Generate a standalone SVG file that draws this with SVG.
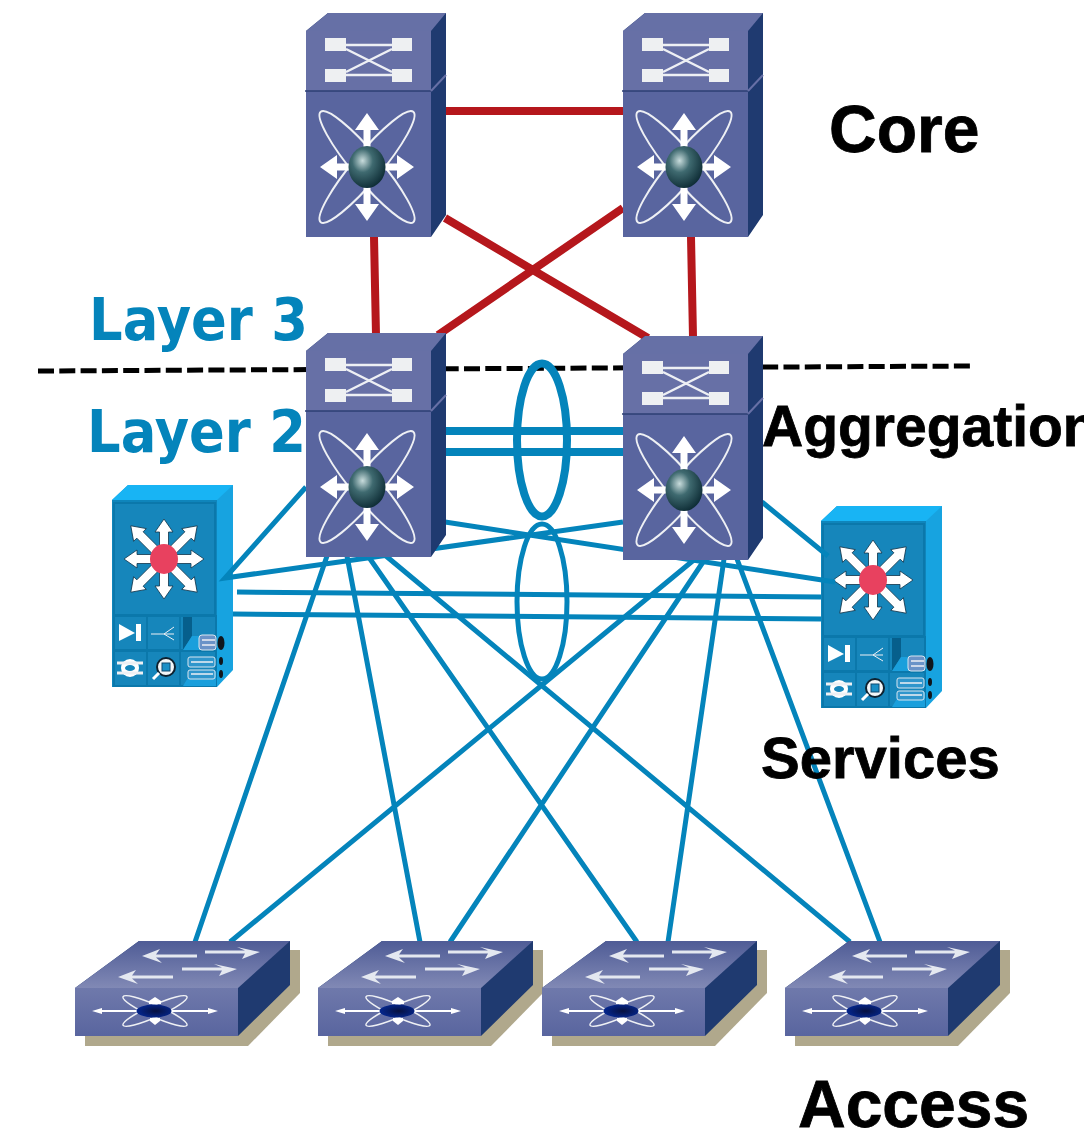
<svg xmlns="http://www.w3.org/2000/svg" xmlns:xlink="http://www.w3.org/1999/xlink" width="1084" height="1130" viewBox="0 0 1084 1130">
<style>
.lbl{font-family:"Liberation Sans",Arial,sans-serif;font-weight:bold;fill:#000;stroke:#000;stroke-width:.8}
.l2{font-family:"DejaVu Sans",Verdana,sans-serif;font-weight:bold;fill:#0484bb;font-size:59px}
.red{stroke:#b5171c;stroke-width:8;fill:none}
.blue{stroke:#0484bb;stroke-width:5;fill:none}
.wl{stroke:#eef0f4;fill:none}
.w{fill:#fff}
.cell{fill:#1686bb;stroke:#0b78ab;stroke-width:2}
</style>
<defs>
<linearGradient id="topg" x1="0" y1="0" x2="0" y2="1"><stop offset="0" stop-color="#4f5c96"/><stop offset="1" stop-color="#8189b5"/></linearGradient>
<linearGradient id="frontg" x1="0" y1="0" x2="0" y2="1"><stop offset="0" stop-color="#6f79ab"/><stop offset="1" stop-color="#59659f"/></linearGradient>
<radialGradient id="ball" cx=".38" cy=".35" r=".7"><stop offset="0" stop-color="#c8dcdc"/><stop offset=".4" stop-color="#3f6a70"/><stop offset="1" stop-color="#0c2a33"/></radialGradient>
<radialGradient id="hub" cx=".55" cy=".5" r=".55"><stop offset="0" stop-color="#07113f"/><stop offset="1" stop-color="#04268e"/></radialGradient>
<path id="arrowV" d="M0-54L12-37H3.500V-15H-3.500V-37H-12Z"/>
<path id="arrowH" d="M0-47L12-30H3.500V-12H-3.500V-30H-12Z"/>
<path id="star" d="M0-40L9-27H4.500V0H-4.500V-27H-9Z"/>
<path id="stard" d="M0-47L9-34H4.500V0H-4.500V-34H-9Z"/>
<g id="nexus">
<path d="M0 18L22 0H140V202L125 224V18Z" fill="#1f3a70"/>
<path d="M0 18L22 0H140L125 18Z" fill="#6670a6"/>
<rect x="0" y="18" width="125" height="60" fill="#6770a6"/>
<rect x="0" y="78" width="125" height="146" fill="#59659f"/>
<path d="M-1 78H125" stroke="#2d3f73" stroke-width="1.500" fill="none"/>
<path d="M125 78L140 62" stroke="#6770a6" stroke-width="2" fill="none"/>
<g fill="#eef0f2"><rect x="19" y="25" width="21" height="13"/><rect x="19" y="56" width="21" height="13"/><rect x="86" y="25" width="20" height="13"/><rect x="86" y="56" width="20" height="13"/></g>
<path class="wl" stroke-width="2.500" d="M40 32H86M40 62H86M40 36L86 59M40 59L86 36"/>
<g class="wl" stroke-width="2">
<ellipse cx="61" cy="154" rx="14" ry="72" transform="rotate(-40 61 154)"/>
<ellipse cx="61" cy="154" rx="14" ry="72" transform="rotate(40 61 154)"/>
</g>
<g class="w" transform="translate(61 154)">
<use href="#arrowV" xlink:href="#arrowV"/>
<use href="#arrowV" xlink:href="#arrowV" transform="rotate(180)"/>
<use href="#arrowH" xlink:href="#arrowH" transform="rotate(90)"/>
<use href="#arrowH" xlink:href="#arrowH" transform="rotate(-90)"/>
</g>
<ellipse cx="61" cy="154" rx="18.500" ry="21" fill="url(#ball)"/>
</g>
<g id="service">
<path d="M0 15L16 0H121V185L105 202V15Z" fill="#17a3e0"/>
<path d="M0 15L16 0H121L105 15Z" fill="#18b4f4"/>
<rect x="0" y="15" width="105" height="187" fill="#0f85bb"/>
<rect x="2" y="18" width="101" height="112" fill="#1686bb" stroke="#0b78ab" stroke-width="2"/>
<rect class="cell" x="2" y="131" width="33" height="34"/>
<rect class="cell" x="35" y="131" width="33" height="34"/>
<rect class="cell" x="2" y="166" width="33" height="35"/>
<rect class="cell" x="35" y="166" width="33" height="35"/>
<rect class="cell" x="68" y="131" width="36" height="34"/>
<rect class="cell" x="68" y="166" width="36" height="35"/>
<path d="M71 132H80V151L71 165Z" fill="#065f8c"/>
<path d="M71 165L80 151H104V165ZM71 201L80 186H104V201Z" fill="#1a9fdc"/>
<g class="w" transform="translate(52 74)" stroke="#10344a" stroke-width=".8">
<use href="#star" xlink:href="#star"/>
<use href="#stard" xlink:href="#stard" transform="rotate(45)"/>
<use href="#star" xlink:href="#star" transform="rotate(90)"/>
<use href="#stard" xlink:href="#stard" transform="rotate(135)"/>
<use href="#star" xlink:href="#star" transform="rotate(180)"/>
<use href="#stard" xlink:href="#stard" transform="rotate(225)"/>
<use href="#star" xlink:href="#star" transform="rotate(270)"/>
<use href="#stard" xlink:href="#stard" transform="rotate(315)"/>
</g>
<ellipse cx="52" cy="74" rx="14" ry="15" fill="#e8415f"/>
<path class="w" d="M7 139L23 148L7 156ZM24 139H29V156H24Z"/>
<path class="wl" stroke-width="1" d="M39 149H52L62 142M52 149L62 149M52 149L62 155"/>
<rect x="87" y="150" width="17" height="15" rx="3" fill="#6a93c8" stroke="#d8e6f0"/>
<path class="wl" stroke-width="1.500" d="M90 155H103M90 160H103"/>
<ellipse cx="109" cy="158" rx="3.500" ry="7" fill="#10161c"/>
<ellipse cx="18" cy="183" rx="9" ry="9" fill="#fff"/>
<ellipse cx="18" cy="183" rx="5" ry="3" fill="#1686bb"/>
<path class="wl" stroke-width="3" d="M5 178H31M5 188H31"/>
<circle cx="54" cy="182" r="9" fill="#f2f6f8" stroke="#0e2230" stroke-width="2"/>
<rect x="50" y="178" width="8" height="8" fill="#1a8fc6" stroke="#0e4a70"/>
<path d="M47 188L41 194" stroke="#fff" stroke-width="3"/>
<rect x="76" y="172" width="27" height="10" rx="2" fill="#2f96cc" stroke="#d8e6f0"/>
<rect x="76" y="185" width="27" height="9" rx="2" fill="#2f96cc" stroke="#d8e6f0"/>
<path class="wl" stroke-width="1.500" d="M79 177H101M79 189H101"/>
<ellipse cx="109" cy="176" rx="2" ry="4" fill="#10161c"/>
<ellipse cx="109" cy="189" rx="2" ry="4" fill="#10161c"/>
</g>
<g id="access">
<path d="M10 47V105H173L225 52V9H64Z" fill="#b0a88c"/>
<path d="M0 47L64 0H215V44L163 95V47Z" fill="#1f3a70"/>
<path d="M0 47L64 0H215L163 47Z" fill="url(#topg)"/>
<rect x="0" y="47" width="163" height="48" fill="url(#frontg)"/>
<path fill="#e4e8f0" d="M67 15L85 8L81 13.500H122V16.500H81L87 22ZM43 36L61 29L57 34.500H98V37.500H57L63 43ZM185 11L167 18L170 12.500H130V9.500H170L162 6ZM162 28L144 35L147 29.500H107V26.500H147L139 23Z"/>
<g class="wl" stroke-width="1.500">
<ellipse cx="80" cy="70" rx="35" ry="6" transform="rotate(24 80 70)"/>
<ellipse cx="80" cy="70" rx="35" ry="6" transform="rotate(-24 80 70)"/>
</g>
<path class="w" d="M17 70L27 67V69H133V67L143 70L133 73V71H27V73Z"/>
<path class="w" d="M74 60L80 56L86 60V63H74ZM75 77H85V80L80 84L75 80Z"/>
<ellipse cx="79" cy="70" rx="17.500" ry="6.500" fill="url(#hub)"/>
</g>
</defs>
<g id="service-left"><use href="#service" xlink:href="#service" x="112" y="485"/></g>
<g id="service-right"><use href="#service" xlink:href="#service" x="821" y="506"/></g>
<g id="connectors">
<path class="red" d="M445 111H623M374 237L376 335M691 237L693 337M445 218L648 338M623 208L438 335"/>
<path d="M38 371L972 366" stroke="#000" stroke-width="5" stroke-dasharray="16 5.300" fill="none"/>
<path class="blue" style="stroke-width:8" d="M445 431H623M445 452H623"/>
<path class="blue" d="M306 487L225 578L623 522M445 522L835 582M762 502L828 556M237 592L821 597M233 614L821 619"/>
<path class="blue" d="M327 556L195 942M347 556L420 942M368 556L637 942M386 556L850 942M695 559L230 942M705 559L450 942M724 559L668 942M737 559L880 942"/>
</g>
<g id="core-left"><use href="#nexus" xlink:href="#nexus" x="306" y="13"/></g>
<g id="core-right"><use href="#nexus" xlink:href="#nexus" x="623" y="13"/></g>
<g id="agg-left"><use href="#nexus" xlink:href="#nexus" x="306" y="333"/></g>
<g id="agg-right"><use href="#nexus" xlink:href="#nexus" x="623" y="336"/></g>
<g id="access-1"><use href="#access" xlink:href="#access" x="75" y="941"/></g>
<g id="access-2"><use href="#access" xlink:href="#access" x="318" y="941"/></g>
<g id="access-3"><use href="#access" xlink:href="#access" x="542" y="941"/></g>
<g id="access-4"><use href="#access" xlink:href="#access" x="785" y="941"/></g>
<g id="bundles">
<ellipse cx="542" cy="440" rx="25" ry="76.500" fill="none" stroke="#0484bb" stroke-width="8"/>
<ellipse cx="542" cy="601.500" rx="25" ry="77.500" fill="none" stroke="#0484bb" stroke-width="5"/>
</g>
<g id="labels">
<text class="lbl" x="829" y="152" font-size="66">Core</text>
<text class="l2" x="89" y="340" textLength="219" lengthAdjust="spacingAndGlyphs">Layer 3</text>
<text class="l2" x="87" y="451.500" textLength="219" lengthAdjust="spacingAndGlyphs">Layer 2</text>
<text class="lbl" x="762" y="446" font-size="57">Aggregation</text>
<text class="lbl" x="761" y="778" font-size="58">Services</text>
<text class="lbl" x="798" y="1127" font-size="66">Access</text>
</g>
</svg>
